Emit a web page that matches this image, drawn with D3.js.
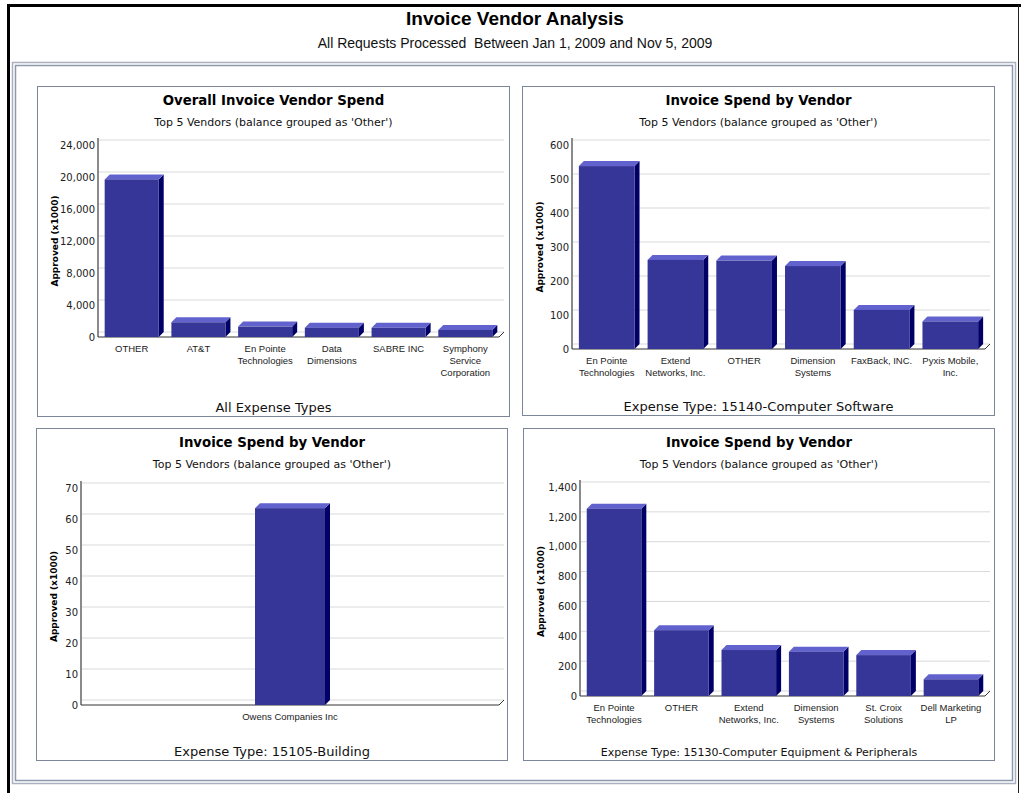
<!DOCTYPE html>
<html>
<head>
<meta charset="utf-8">
<script src="https://cdn.jsdelivr.net/npm/d3@7"></script>
<style>
  body { margin: 0; background: #fff; }
  svg { display: block; }
  .page-title { font-family: "Liberation Sans", Arial, sans-serif; font-size: 19px; font-weight: bold; fill: #000; }
  .page-sub { font-family: "Liberation Sans", Arial, sans-serif; font-size: 14px; fill: #111; white-space: pre; }
  .chart-title { font-family: "DejaVu Sans", sans-serif; font-size: 13.3px; font-weight: bold; fill: #000; }
  .chart-sub { font-family: "DejaVu Sans", sans-serif; font-size: 11px; fill: #111; }
  .chart-foot { font-family: "DejaVu Sans", sans-serif; fill: #111; }
  .y-title { font-family: "DejaVu Sans", sans-serif; font-size: 9px; font-weight: bold; fill: #000; }
</style>
</head>
<body>
<svg id="page" width="1021" height="793"></svg>
<script>
// ---- data (approved amounts, x1000) ----
const allTypesVendors = ["OTHER", "AT&T", "En Pointe Technologies", "Data Dimensions", "SABRE INC", "Symphony Service Corporation"];
const allTypesSpend = [19700, 1840, 1300, 1170, 1150, 880];
const allTypesTicks = [0, 4000, 8000, 12000, 16000, 20000, 24000];

const softwareVendors = ["En Pointe Technologies", "Extend Networks, Inc.", "OTHER", "Dimension Systems", "FaxBack, INC.", "Pyxis Mobile, Inc."];
const softwareSpend = [538, 262, 260, 244, 115, 81];
const softwareTicks = [0, 100, 200, 300, 400, 500, 600];

const buildingVendors = ["Owens Companies Inc"];
const buildingSpend = [63.5];
const buildingTicks = [0, 10, 20, 30, 40, 50, 60, 70];

const equipmentVendors = ["En Pointe Technologies", "OTHER", "Extend Networks, Inc.", "Dimension Systems", "St. Croix Solutions", "Dell Marketing LP"];
const equipmentSpend = [1255, 441, 308, 297, 274, 112];
const equipmentTicks = [0, 200, 400, 600, 800, 1000, 1200, 1400];

const subTitle = "Top 5 Vendors (balance grouped as 'Other')";

// ---- layout of the four panels ----
const charts = [
    {title: "Overall Invoice Vendor Spend", footer: "All Expense Types", footSize: 13,
     vendors: allTypesVendors, values: allTypesSpend, ticks: allTypesTicks,
     box: {x: 37, y: 86, w: 473, h: 331}, margin: {left: 61, right: 11, top: 59, bottom: 251}},
    {title: "Invoice Spend by Vendor", footer: "Expense Type: 15140-Computer Software", footSize: 13,
     vendors: softwareVendors, values: softwareSpend, ticks: softwareTicks,
     box: {x: 522, y: 86, w: 473, h: 330}, margin: {left: 50, right: 10, top: 59, bottom: 263}},
    {title: "Invoice Spend by Vendor", footer: "Expense Type: 15105-Building", footSize: 13,
     vendors: buildingVendors, values: buildingSpend, ticks: buildingTicks,
     box: {x: 36, y: 428, w: 472, h: 333}, margin: {left: 45, right: 9, top: 60, bottom: 277}},
    {title: "Invoice Spend by Vendor", footer: "Expense Type: 15130-Computer Equipment & Peripherals", footSize: 11,
     vendors: equipmentVendors, values: equipmentSpend, ticks: equipmentTicks,
     box: {x: 523, y: 428, w: 472, h: 333}, margin: {left: 57, right: 10, top: 59, bottom: 268}}
];

const depth = 5;
const maxBar = 70;
const colors = {front: "#363699", top: "#6262cf", side: "#000066", grid: "#d9d9d9", panel: "#7b8698"};

let svg = d3.select("svg#page");

// page frame
svg.append("path").attr("d", "M8.5,793 V5.5 H1021").attr("fill", "none").attr("stroke", "#000").attr("stroke-width", 3);
svg.append("line").attr("x1", 1018.5).attr("x2", 1018.5).attr("y1", 5).attr("y2", 793).attr("stroke", "#222");
svg.append("rect").attr("x", 12.5).attr("y", 62.5).attr("width", 1003).attr("height", 721)
    .attr("fill", "none").attr("stroke", "#a9b1c0").attr("stroke-width", 1.5);
svg.append("rect").attr("x", 15.5).attr("y", 65.5).attr("width", 997).attr("height", 715)
    .attr("fill", "none").attr("stroke", "#8d98ab").attr("stroke-width", 1.5);

svg.append("text").attr("class", "page-title").attr("x", 515).attr("y", 25)
    .attr("text-anchor", "middle").text("Invoice Vendor Analysis");
svg.append("text").attr("class", "page-sub").attr("x", 515).attr("y", 48)
    .attr("text-anchor", "middle").text("All Requests Processed  Between Jan 1, 2009 and Nov 5, 2009");

function wrap(text, width) {
    text.each(function () {
        let t = d3.select(this),
            words = t.text().split(/\s+/),
            lines = [], line = [];
        t.text(null);
        let probe = t.append("tspan");
        words.forEach(function (w) {
            line.push(w);
            probe.text(line.join(" "));
            if (probe.node().getComputedTextLength() > width && line.length > 1) {
                line.pop();
                lines.push(line.join(" "));
                line = [w];
            }
        });
        lines.push(line.join(" "));
        probe.remove();
        lines.forEach(function (l, i) {
            t.append("tspan").attr("x", 0).attr("dy", i === 0 ? "0.71em" : "1.3em").text(l);
        });
    });
}

function drawChart(cfg) {
    let g = svg.append("g").attr("transform", "translate(" + cfg.box.x + "," + cfg.box.y + ")");
    g.append("rect")
        .attr("x", 0.5).attr("y", 0.5)
        .attr("width", cfg.box.w - 1).attr("height", cfg.box.h - 1)
        .attr("fill", "#fff").attr("stroke", colors.panel);

    let x0 = cfg.margin.left,
        x1 = cfg.box.w - cfg.margin.right,
        y0 = cfg.margin.bottom;

    let xScale = d3.scaleBand().domain(cfg.vendors).range([x0, x1])
        .paddingInner(0.19).paddingOuter(0.1);
    let yScale = d3.scaleLinear().domain([0, d3.max(cfg.ticks)]).range([y0, cfg.margin.top]);
    let barW = Math.min(xScale.bandwidth(), maxBar);

    // titles
    g.append("text").attr("class", "chart-title").attr("x", cfg.box.w / 2).attr("y", 19)
        .attr("text-anchor", "middle").text(cfg.title);
    g.append("text").attr("class", "chart-sub").attr("x", cfg.box.w / 2).attr("y", 40)
        .attr("text-anchor", "middle").text(subTitle);
    g.append("text").attr("class", "chart-foot").attr("x", cfg.box.w / 2).attr("y", cfg.box.h - 5.5)
        .attr("text-anchor", "middle").style("font-size", cfg.footSize + "px").text(cfg.footer);

    // back wall gridlines
    g.append("g").selectAll("line.grid")
        .data(cfg.ticks)
        .enter().append("line")
        .attr("class", "grid")
        .attr("x1", x0).attr("x2", x1 + depth)
        .attr("y1", d => yScale(d) - depth).attr("y2", d => yScale(d) - depth)
        .attr("stroke", colors.grid);

    // y axis
    let yAxis = d3.axisLeft(yScale).tickValues(cfg.ticks).tickFormat(d3.format(",")).tickSize(0).tickPadding(3);
    let ya = g.append("g").attr("transform", "translate(" + x0 + ",0)").call(yAxis);
    ya.select(".domain").remove();
    ya.selectAll("text").attr("font-family", "DejaVu Sans, sans-serif").attr("font-size", 10).attr("fill", "#222");

    g.append("line").attr("x1", x0).attr("x2", x0)
        .attr("y1", yScale(d3.max(cfg.ticks)) - depth - 2).attr("y2", y0)
        .attr("stroke", "#8a8a8a").attr("stroke-width", 2);
    // floor
    g.append("path")
        .attr("d", "M" + x0 + "," + y0 + " H" + x1 + " L" + (x1 + depth) + "," + (y0 - depth))
        .attr("fill", "none").attr("stroke", "#333").attr("stroke-width", 1);

    g.append("text").attr("class", "y-title")
        .attr("transform", "translate(17.5," + ((y0 + cfg.margin.top) / 2) + ") rotate(-90)")
        .attr("text-anchor", "middle").attr("dy", "0.35em").text("Approved (x1000)");

    // bars
    let rows = cfg.vendors.map((v, i) => ({vendor: v, value: cfg.values[i]}));
    let bars = g.append("g").selectAll("g.bar").data(rows).enter().append("g").attr("class", "bar");
    let bx = d => xScale(d.vendor) + (xScale.bandwidth() - barW) / 2;
    bars.append("path")
        .attr("d", d => {
            let x = bx(d), y = yScale(d.value);
            return "M" + (x + barW) + "," + y + " L" + (x + barW + depth) + "," + (y - depth) +
                " V" + (y0 - depth) + " L" + (x + barW) + "," + y0 + "Z";
        })
        .attr("fill", colors.side);
    bars.append("path")
        .attr("d", d => {
            let x = bx(d), y = yScale(d.value);
            return "M" + x + "," + y + " L" + (x + depth) + "," + (y - depth) +
                " H" + (x + barW + depth) + " L" + (x + barW) + "," + y + "Z";
        })
        .attr("fill", colors.top);
    bars.append("rect")
        .attr("x", bx)
        .attr("y", d => yScale(d.value))
        .attr("width", barW)
        .attr("height", d => y0 - yScale(d.value))
        .attr("fill", colors.front);

    // category labels
    let xAxis = d3.axisBottom(xScale).tickSize(0).tickPadding(8);
    let xa = g.append("g").attr("transform", "translate(0," + y0 + ")").call(xAxis);
    xa.select(".domain").remove();
    xa.selectAll("text").attr("font-family", "Liberation Sans, Arial, sans-serif")
        .attr("font-size", 9.5).attr("fill", "#222")
        .call(wrap, xScale.step() - 2);
}

charts.forEach(drawChart);
</script>
</body>
</html>
